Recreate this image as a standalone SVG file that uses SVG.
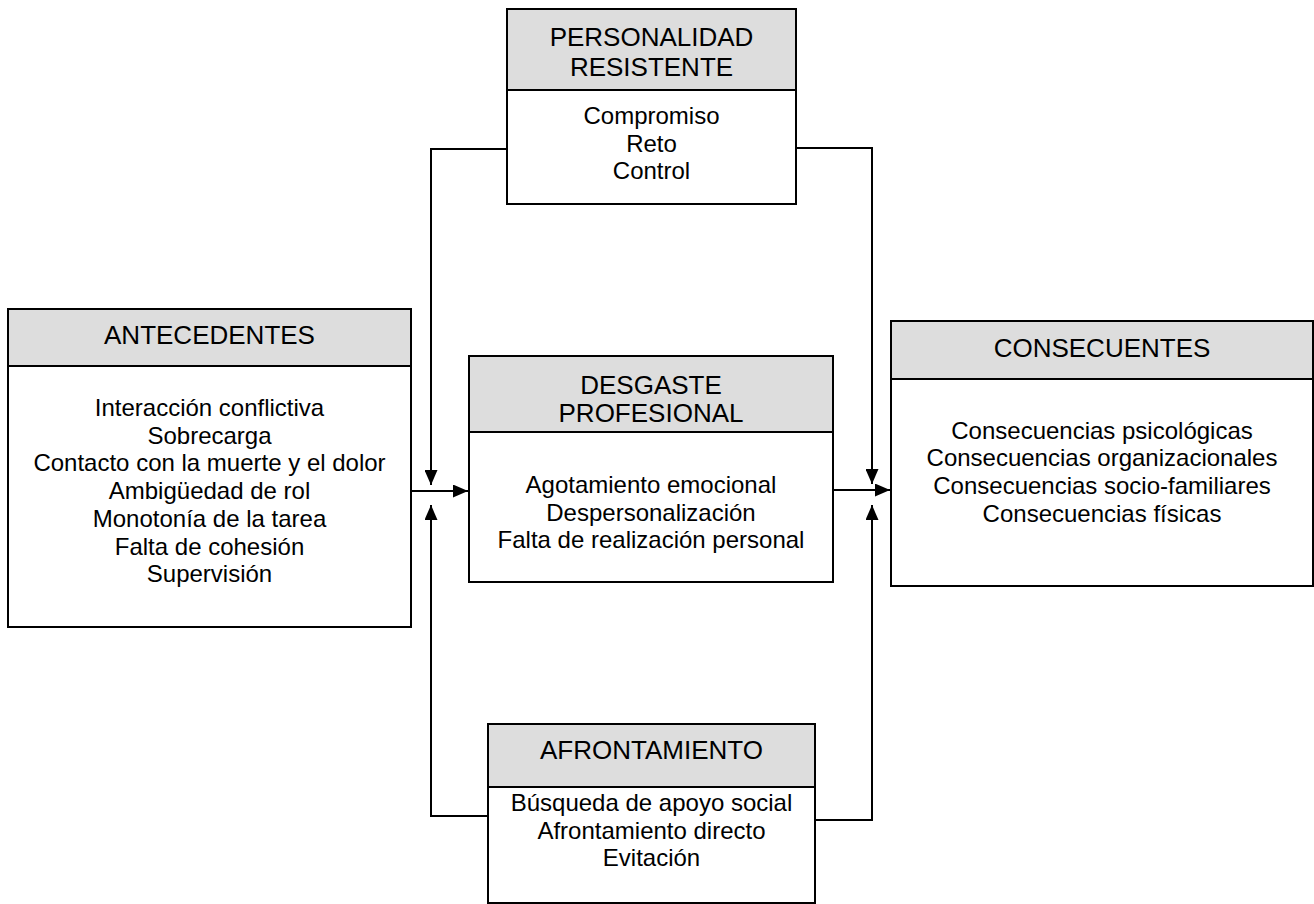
<svg xmlns="http://www.w3.org/2000/svg" width="1314" height="904" viewBox="0 0 1314 904">
<style>
.box{fill:#ffffff;stroke:#000;stroke-width:2}
.hdr{fill:#dddddd;stroke:#000;stroke-width:2}
.ht{font-family:"Liberation Sans",Arial,sans-serif;font-size:26px;fill:#000;text-anchor:middle}
.bt{font-family:"Liberation Sans",Arial,sans-serif;font-size:24px;fill:#000;text-anchor:middle}
.cn{fill:none;stroke:#000;stroke-width:2}
</style>
<defs>
<marker id="ah" viewBox="0 0 15 13" refX="15" refY="6.5" markerWidth="15" markerHeight="13" markerUnits="userSpaceOnUse" orient="auto">
<path d="M0,0 L15,6.5 L0,13 Z" fill="#000"/>
</marker>
</defs>
<rect width="1314" height="904" fill="#fff"/>
<g id="connectors">
<path class="cn" d="M411,491 L468,491" marker-end="url(#ah)"/>
<path class="cn" d="M507,149 L431,149 L431,485" marker-end="url(#ah)"/>
<path class="cn" d="M488,816 L431,816 L431,505" marker-end="url(#ah)"/>
<path class="cn" d="M833,490 L890,490" marker-end="url(#ah)"/>
<path class="cn" d="M796,148 L872,148 L872,484" marker-end="url(#ah)"/>
<path class="cn" d="M815,820 L872,820 L872,505" marker-end="url(#ah)"/>
</g>
<g id="personalidad">
<rect class="box" x="507" y="9" width="289" height="195"/>
<rect class="hdr" x="507" y="9" width="289" height="81"/>
<text class="ht" x="651.5" y="46">PERSONALIDAD</text>
<text class="ht" x="651.5" y="76">RESISTENTE</text>
<text class="bt" x="651.5" y="124">Compromiso</text>
<text class="bt" x="651.5" y="151.5">Reto</text>
<text class="bt" x="651.5" y="179">Control</text>
</g>
<g id="antecedentes">
<rect class="box" x="8" y="309" width="403" height="318"/>
<rect class="hdr" x="8" y="309" width="403" height="57"/>
<text class="ht" x="209.5" y="344">ANTECEDENTES</text>
<text class="bt" x="209.5" y="416">Interacción conflictiva</text>
<text class="bt" x="209.5" y="443.7">Sobrecarga</text>
<text class="bt" x="209.5" y="471.4">Contacto con la muerte y el dolor</text>
<text class="bt" x="209.5" y="499.1">Ambigüedad de rol</text>
<text class="bt" x="209.5" y="526.8">Monotonía de la tarea</text>
<text class="bt" x="209.5" y="554.5">Falta de cohesión</text>
<text class="bt" x="209.5" y="582.2">Supervisión</text>
</g>
<g id="desgaste">
<rect class="box" x="469" y="356" width="364" height="226"/>
<rect class="hdr" x="469" y="356" width="364" height="76"/>
<text class="ht" x="651" y="394">DESGASTE</text>
<text class="ht" x="651" y="422">PROFESIONAL</text>
<text class="bt" x="651" y="493">Agotamiento emocional</text>
<text class="bt" x="651" y="520.7">Despersonalización</text>
<text class="bt" x="651" y="548.4">Falta de realización personal</text>
</g>
<g id="consecuentes">
<rect class="box" x="891" y="321" width="422" height="265"/>
<rect class="hdr" x="891" y="321" width="422" height="58"/>
<text class="ht" x="1102" y="357">CONSECUENTES</text>
<text class="bt" x="1102" y="438.5">Consecuencias psicológicas</text>
<text class="bt" x="1102" y="466.2">Consecuencias organizacionales</text>
<text class="bt" x="1102" y="493.9">Consecuencias socio-familiares</text>
<text class="bt" x="1102" y="521.6">Consecuencias físicas</text>
</g>
<g id="afrontamiento">
<rect class="box" x="488" y="724" width="327" height="179"/>
<rect class="hdr" x="488" y="724" width="327" height="63"/>
<text class="ht" x="651.5" y="759">AFRONTAMIENTO</text>
<text class="bt" x="651.5" y="811">Búsqueda de apoyo social</text>
<text class="bt" x="651.5" y="838.7">Afrontamiento directo</text>
<text class="bt" x="651.5" y="866.4">Evitación</text>
</g>
</svg>
